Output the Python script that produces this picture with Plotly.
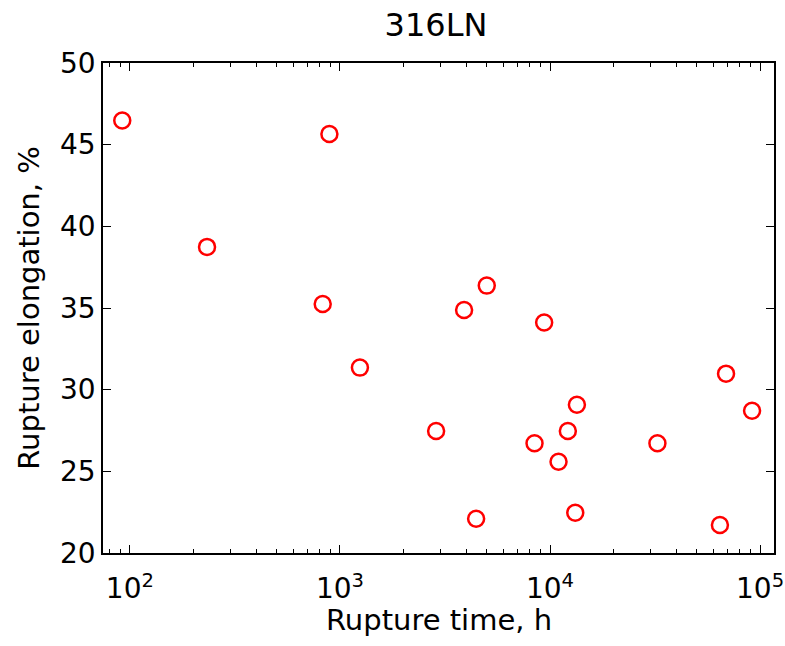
import plotly.graph_objects as go
import numpy as np

rupture_time_h = [92, 233, 891, 828, 1245, 2870, 4450, 3900, 5000, 9380,
                  8440, 10980, 12160, 13430, 13190, 32460, 68870, 91600, 64400]
elongation_pct = [46.48, 38.74, 45.65, 35.25, 31.35, 27.47, 22.10, 34.88, 36.37, 34.11,
                  26.72, 25.59, 27.47, 29.08, 22.46, 26.72, 30.98, 28.71, 21.71]

x_major = [1e2, 1e3, 1e4, 1e5]
x_major_text = ["10<sup>2</sup>", "10<sup>3</sup>", "10<sup>4</sup>", "10<sup>5</sup>"]
x_minor = [m * 10 ** e for e in range(1, 6) for m in range(2, 10)]
y_ticks = [20, 25, 30, 35, 40, 45, 50]

font = "DejaVu Sans, sans-serif"

fig = go.Figure()
fig.add_trace(go.Scatter(
    x=rupture_time_h, y=elongation_pct, mode="markers",
    marker=dict(symbol="circle-open", size=16, color="#ff0000",
                line=dict(color="#ff0000", width=2.5)),
    showlegend=False,
))

fig.update_layout(
    width=785, height=646,
    margin=dict(l=103, r=11, t=63, b=93),
    paper_bgcolor="white", plot_bgcolor="white",
    font=dict(family=font, size=26, color="black"),
    title=dict(text="316LN", x=0.5554, xanchor="center", y=0.962, yanchor="middle",
               font=dict(family=font, size=32, color="black")),
)
fig.add_annotation(
    text="Rupture time, h", xref="paper", yref="paper", x=0.5, y=-0.136,
    xanchor="center", yanchor="middle", showarrow=False,
    font=dict(family=font, size=29, color="black"),
)
fig.update_xaxes(
    type="log", range=[np.log10(74.5), np.log10(116500)],
    automargin=False,
    tickmode="array", tickvals=x_major, ticktext=x_major_text,
    ticks="inside", ticklen=8, tickwidth=1, tickcolor="black",
    ticklabelstandoff=10,
    showline=True, linecolor="black", linewidth=1.5, mirror="ticks",
    showgrid=False, zeroline=False,
    tickfont=dict(family=font, size=28, color="black"),
    minor=dict(tickmode="array", tickvals=x_minor, ticks="inside", ticklen=4,
               tickwidth=1, tickcolor="black", showgrid=False),
)
fig.update_yaxes(
    range=[20, 50], tickmode="array", tickvals=y_ticks,
    automargin=False,
    ticks="inside", ticklen=8, tickwidth=1, tickcolor="black",
    showline=True, linecolor="black", linewidth=1.5, mirror="ticks",
    showgrid=False, zeroline=False,
    tickfont=dict(family=font, size=28, color="black"),
    title=dict(text="Rupture elongation, %", font=dict(family=font, size=29, color="black"), standoff=12),
)

fig.write_html("out.html")
